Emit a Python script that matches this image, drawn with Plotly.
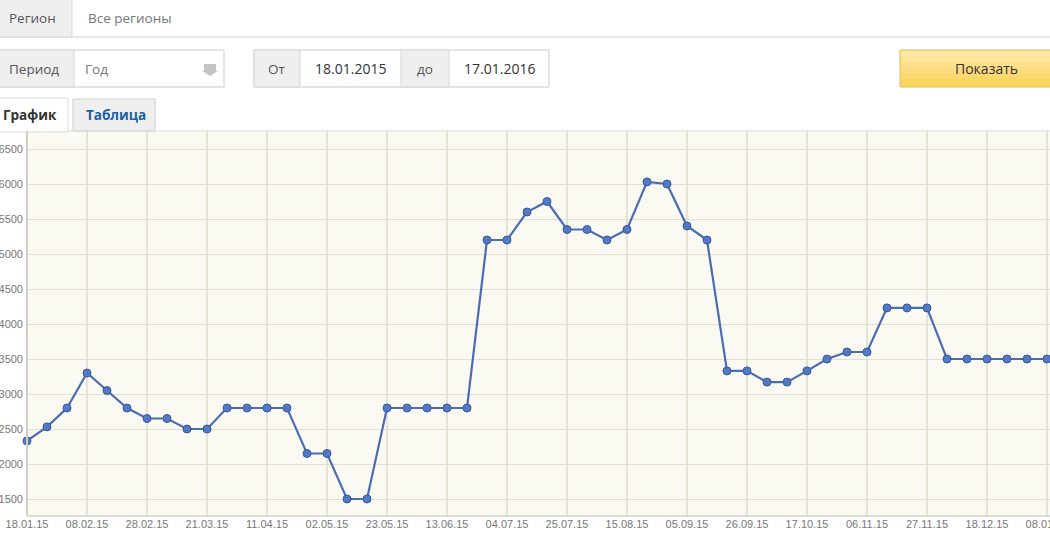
import plotly.graph_objects as go

# ---- data ----
week_index = list(range(52))
prices = [2330, 2530, 2800, 3300, 3050, 2800, 2650, 2650, 2500, 2500,
          2800, 2800, 2800, 2800, 2150, 2150, 1500, 1500, 2800, 2800,
          2800, 2800, 2800, 5200, 5200, 5600, 5750, 5350, 5350, 5200,
          5350, 6030, 6000, 5400, 5200, 3330, 3330, 3170, 3170, 3330,
          3500, 3600, 3600, 4230, 4230, 4230, 3500, 3500, 3500, 3500,
          3500, 3500]
tick_labels = ["18.01.15", "08.02.15", "28.02.15", "21.03.15", "11.04.15", "02.05.15",
               "23.05.15", "13.06.15", "04.07.15", "25.07.15", "15.08.15", "05.09.15",
               "26.09.15", "17.10.15", "06.11.15", "27.11.15", "18.12.15", "08.01.16"]
tick_positions = [3 * i for i in range(len(tick_labels))]
y_ticks = [1500, 2000, 2500, 3000, 3500, 4000, 4500, 5000, 5500, 6000, 6500]

W, H = 1050, 539
L, R, T, B = 27, 0, 131, 23
PW, PH = W - L - R, H - T - B


def px(x):
    return (x - L) / PW


def py(y):
    return (H - B - y) / PH


fig = go.Figure()
fig.add_trace(go.Scatter(
    x=week_index, y=prices, mode="lines+markers",
    line=dict(color="#4a6cb3", width=2.2),
    marker=dict(size=8, color="#5479c4", line=dict(color="#35589e", width=1)),
    cliponaxis=False, hoverinfo="x+y", showlegend=False,
))

shapes = []
annots = []
UI_FONT = "Open Sans"


def rect(x0, y0, x1, y1, fill, line="#cccccc", lw=1, layer="above"):
    shapes.append(dict(type="rect", xref="paper", yref="paper",
                       x0=px(x0), x1=px(x1), y0=py(y1), y1=py(y0),
                       fillcolor=fill, line=dict(color=line, width=lw), layer=layer))


def hline(x0, x1, y, color, w=1):
    shapes.append(dict(type="line", xref="paper", yref="paper",
                       x0=px(x0), x1=px(x1), y0=py(y), y1=py(y),
                       line=dict(color=color, width=w)))


def vline(x, y0, y1, color, w=1):
    shapes.append(dict(type="line", xref="paper", yref="paper",
                       x0=px(x), x1=px(x), y0=py(y0), y1=py(y1),
                       line=dict(color=color, width=w)))


def text(x, y, s, size=14, color="#555555", bold=False, anchor="left", family=UI_FONT):
    if bold:
        s = "<b>" + s + "</b>"
    annots.append(dict(xref="paper", yref="paper", x=px(x), y=py(y), text=s,
                       showarrow=False, xanchor=anchor, yanchor="middle",
                       font=dict(family=family, size=size, color=color)))


# Top row: region
rect(-2, -2, 1052, 37, "#ffffff", line="#cccccc")
rect(-2, -2, 72, 37, "#efefef", line="#d6d6d6")
text(7, 18, "Регион", size=13.5, color="#555555")
text(86, 18, "Все регионы", size=13.5, color="#777777")

# Period
rect(-2, 50, 224, 87, "#ffffff", line="#cccccc")
rect(-2, 50, 74, 87, "#efefef", line="#d6d6d6")
text(7, 69, "Период", size=13.5, color="#555555")
text(83, 69, "Год", size=13.5, color="#777777")
shapes.append(dict(type="path", xref="paper", yref="paper",
                   path="M {a},{b} L {c},{b} L {c},{d} L {e},{d} L {f},{g} L {h},{d} L {a},{d} Z".format(
                       a=px(204), b=py(64), c=px(216), d=py(71), e=px(218), f=px(210), g=py(76), h=px(202)),
                   fillcolor="#c4c4c4", line=dict(width=0)))

# Date range
rect(254, 50, 549, 87, "#ffffff", line="#cccccc")
rect(254, 50, 300, 87, "#efefef", line="#d6d6d6")
rect(401, 50, 449, 87, "#efefef", line="#d6d6d6")
text(277, 69, "От", size=13.5, color="#555555", anchor="center")
text(350, 69, "18.01.2015", color="#333333", anchor="center")
text(425, 69, "до", size=13.5, color="#555555", anchor="center")
text(499, 69, "17.01.2016", color="#333333", anchor="center")

# Button (vertical gradient approximated by bands)
rect(900, 50, 1056, 87, "#fad55a", line="#e4c060")
band_colors = ["#feeaa6", "#fde59a", "#fde08c", "#fcdc7e", "#fbd870", "#fbd564"]
for i, c in enumerate(band_colors):
    y0 = 51 + i * 5.5
    rect(901, y0, 1056, y0 + 5.5, c, line="rgba(0,0,0,0)", lw=0)
text(986, 69, "Показать", color="#333333", anchor="center")

# Tabs
rect(73, 99, 155, 131, "#efefef", line="#cfcfcf")
rect(-2, 98, 68, 132, "#ffffff", line="#dddddd")
text(1, 115, "График", size=13.5, color="#333333", bold=True)
text(84, 115, "Таблица", size=13.5, color="#1b5fa6", bold=True)

# plot frame lines
hline(68, 1050, 131, "#dedbd0", 1)
vline(27, 131, 516, "#cfcdc4", 2)
hline(27, 1050, 516, "#dedbd0", 2)

fig.update_layout(
    width=W, height=H,
    margin=dict(l=L, r=R, t=T, b=B, pad=0, autoexpand=False),
    paper_bgcolor="#ffffff",
    plot_bgcolor="#fafaf2",
    shapes=shapes, annotations=annots,
    xaxis=dict(range=[0, (W - L) / 20.0], tickmode="array",
               tickvals=tick_positions, ticktext=tick_labels,
               showgrid=True, gridcolor="#e5e2d6", gridwidth=2,
               zeroline=False, showline=False, ticks="",
               ticklabeloverflow="allow", automargin=False,
               tickfont=dict(family="Arial", size=11, color="#777777"),
               fixedrange=True),
    yaxis=dict(range=[1500 - 17 / 0.07, 6500 + 18 / 0.07], tickmode="array",
               tickvals=y_ticks, ticktext=[str(v) for v in y_ticks],
               showgrid=True, gridcolor="#e3e0d3", gridwidth=1.3,
               zeroline=False, showline=False, ticks="",
               ticklabelstandoff=3, ticklabeloverflow="allow", automargin=False,
               tickfont=dict(family="Arial", size=11, color="#777777"),
               fixedrange=True),
)

fig.write_html("out.html", config={"displayModeBar": False},
               post_script="document.body.style.margin='0';document.body.style.overflow='hidden';")
